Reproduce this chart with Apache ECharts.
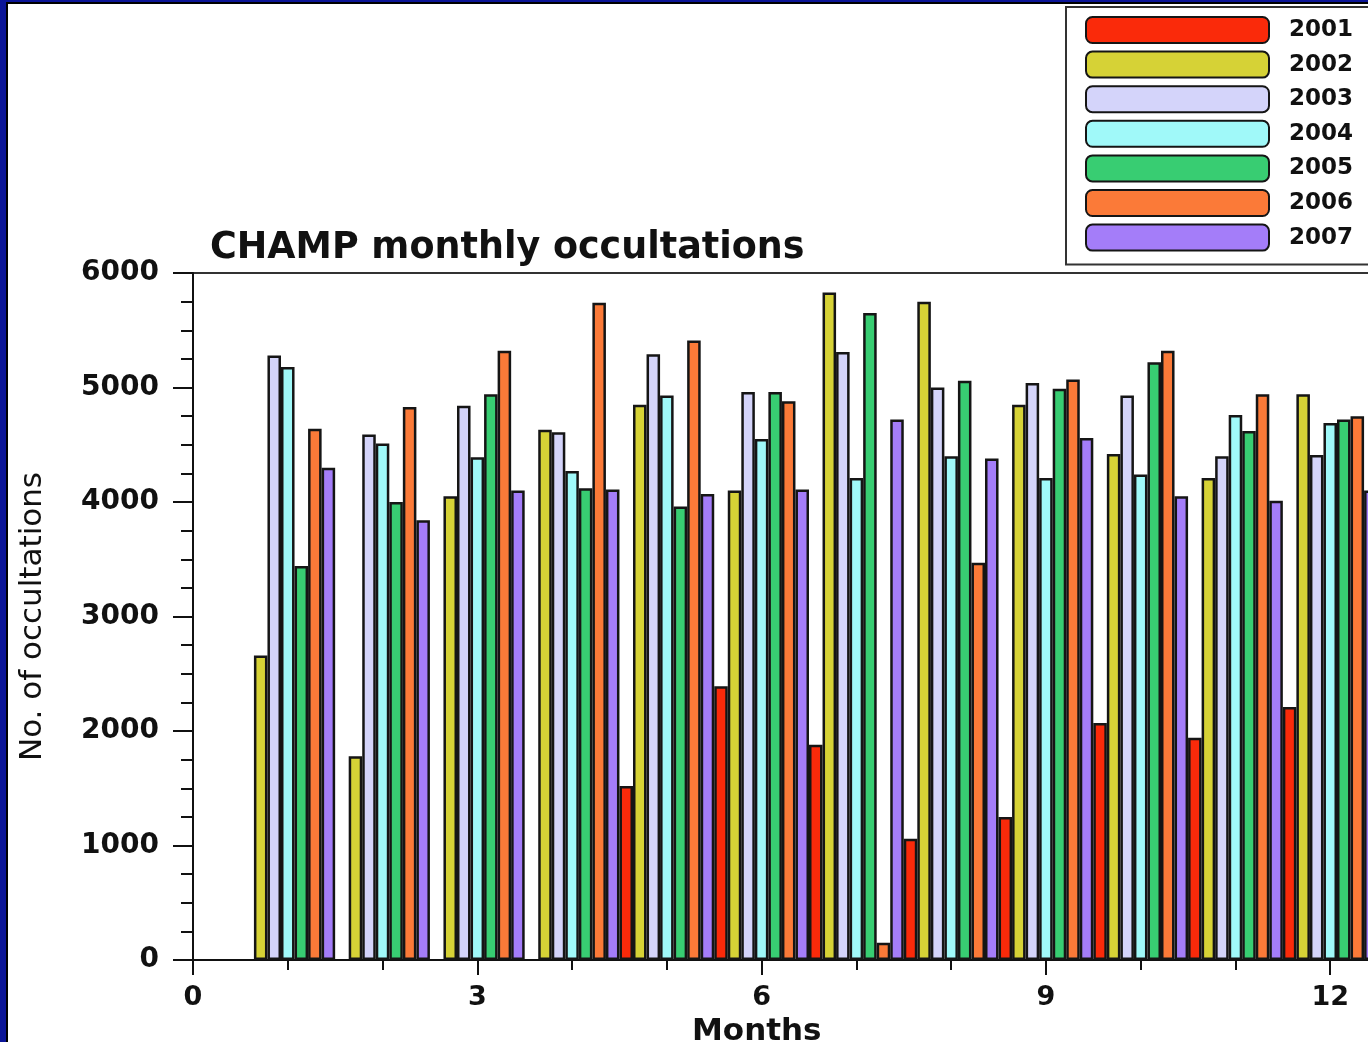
<!DOCTYPE html>
<html>
<head>
<meta charset="utf-8">
<script src="https://cdn.jsdelivr.net/npm/echarts@6/dist/echarts.min.js"></script>
<style>
  html, body { margin: 0; padding: 0; }
  body { width: 1368px; height: 1042px; background: #0b1597; position: relative; overflow: hidden; }
  #frame {
    position: absolute; left: 6px; top: 2px; width: 1400px; height: 1100px;
    background: #fff; border-left: 2px solid #000; border-top: 2px solid #000;
  }
  #main { position: absolute; left: 0; top: 0; width: 1368px; height: 1042px; }
</style>
</head>
<body>
<div id="frame"></div>
<div id="main"></div>
<script>
// months on the x axis, one group of bars per month
const months = [1, 2, 3, 4, 5, 6, 7, 8, 9, 10, 11, 12];
const years = ["2001", "2002", "2003", "2004", "2005", "2006", "2007"];
const yearColors = ["#fa2a0a", "#d6d236", "#d4d4fa", "#a0f9f9", "#38cd72", "#fb7a38", "#a47df9"];

// monthly occultation counts (null = no bar)
const y2001 = [null, null, null, null, 1520, 2390, 1880, 1060, 1250, 2070, 1940, 2210];
const y2002 = [2660, 1780, 4050, 4630, 4850, 4100, 5830, 5750, 4850, 4420, 4210, 4940];
const y2003 = [5280, 4590, 4840, 4610, 5290, 4960, 5310, 5000, 5040, 4930, 4400, 4410];
const y2004 = [5180, 4510, 4390, 4270, 4930, 4550, 4210, 4400, 4210, 4240, 4760, 4690];
const y2005 = [3440, 4000, 4940, 4120, 3960, 4960, 5650, 5060, 4990, 5220, 4620, 4720];
const y2006 = [4640, 4830, 5320, 5740, 5410, 4880, 150, 3470, 5070, 5320, 4940, 4750];
const y2007 = [4300, 3840, 4100, 4110, 4070, 4110, 4720, 4380, 4560, 4050, 4010, 4100];
const yearValues = [y2001, y2002, y2003, y2004, y2005, y2006, y2007];

const boldFont = "DejaVu Sans";

const chart = echarts.init(document.getElementById("main"));

const series = years.map(function (name, i) {
  return {
    name: name,
    type: "bar",
    xAxisIndex: 0,
    barGap: "0%",
    barCategoryGap: "0%",
    itemStyle: {
      color: yearColors[i],
      borderColor: "#151515",
      borderWidth: 2.5,
    },
    data: months.map(function (m, k) {
      return [m, yearValues[i][k]];
    }),
  };
});

const option = {
  animation: false,
  title: [
    {
      text: "CHAMP monthly occultations",
      left: 210,
      top: 230,
      padding: 0,
      textStyle: { fontFamily: boldFont, fontWeight: "bold", fontSize: 36.5, color: "#111" },
    },
    {
      text: "Months",
      left: 692,
      top: 1016,
      padding: 0,
      textStyle: { fontFamily: boldFont, fontWeight: "bold", fontSize: 31, color: "#111" },
    },
  ],
  legend: {
    orient: "vertical",
    left: 1066,
    top: 7,
    padding: [9, 20, 13, 19],
    itemWidth: 183,
    itemHeight: 26,
    itemGap: 6.6,
    borderColor: "#333",
    borderWidth: 2,
    backgroundColor: "#fff",
    data: years,
    textStyle: {
      fontFamily: boldFont,
      fontWeight: "bold",
      fontSize: 23,
      color: "#111",
      padding: [0, 0, 0, 15],
    },
  },
  grid: {
    left: 193,
    top: 273,
    width: 1232,
    bottom: 82,
    outerBoundsMode: "none",
    containLabel: false,
    show: true,
    borderColor: "#333",
    borderWidth: 2,
  },
  xAxis: [
    {
      type: "value",
      position: "bottom",
      min: 0,
      max: 13,
      interval: 1,
      axisLine: { lineStyle: { color: "#111", width: 2 } },
      axisTick: { length: 10, lineStyle: { color: "#111", width: 2 } },
      axisLabel: { show: false },
      splitLine: { show: false },
    },
    {
      type: "value",
      position: "bottom",
      min: 0,
      max: 13,
      interval: 3,
      axisLine: { show: false },
      axisTick: { length: 15, lineStyle: { color: "#111", width: 2 } },
      axisLabel: {
        margin: 24,
        fontFamily: boldFont,
        fontWeight: "bold",
        fontSize: 27,
        color: "#111",
        formatter: function (v) {
          return v % 3 === 0 ? String(v) : "";
        },
      },
      splitLine: { show: false },
    },
  ],
  yAxis: {
    type: "value",
    min: 0,
    max: 6000,
    interval: 1000,
    name: "No. of occultations",
    nameLocation: "middle",
    nameGap: 145,
    nameTextStyle: { fontFamily: "DejaVu Sans", fontSize: 31, color: "#111" },
    axisLine: { show: true, lineStyle: { color: "#111", width: 2 } },
    axisTick: { length: 20, lineStyle: { color: "#111", width: 2 } },
    minorTick: { show: true, splitNumber: 4, length: 12, lineStyle: { color: "#111", width: 2 } },
    axisLabel: {
      margin: 34,
      fontFamily: boldFont,
      fontWeight: "bold",
      fontSize: 28,
      color: "#111",
      formatter: function (v) {
        return String(v);
      },
    },
    splitLine: { show: false },
  },
  series: series,
};

chart.setOption(option);
</script>
</body>
</html>
